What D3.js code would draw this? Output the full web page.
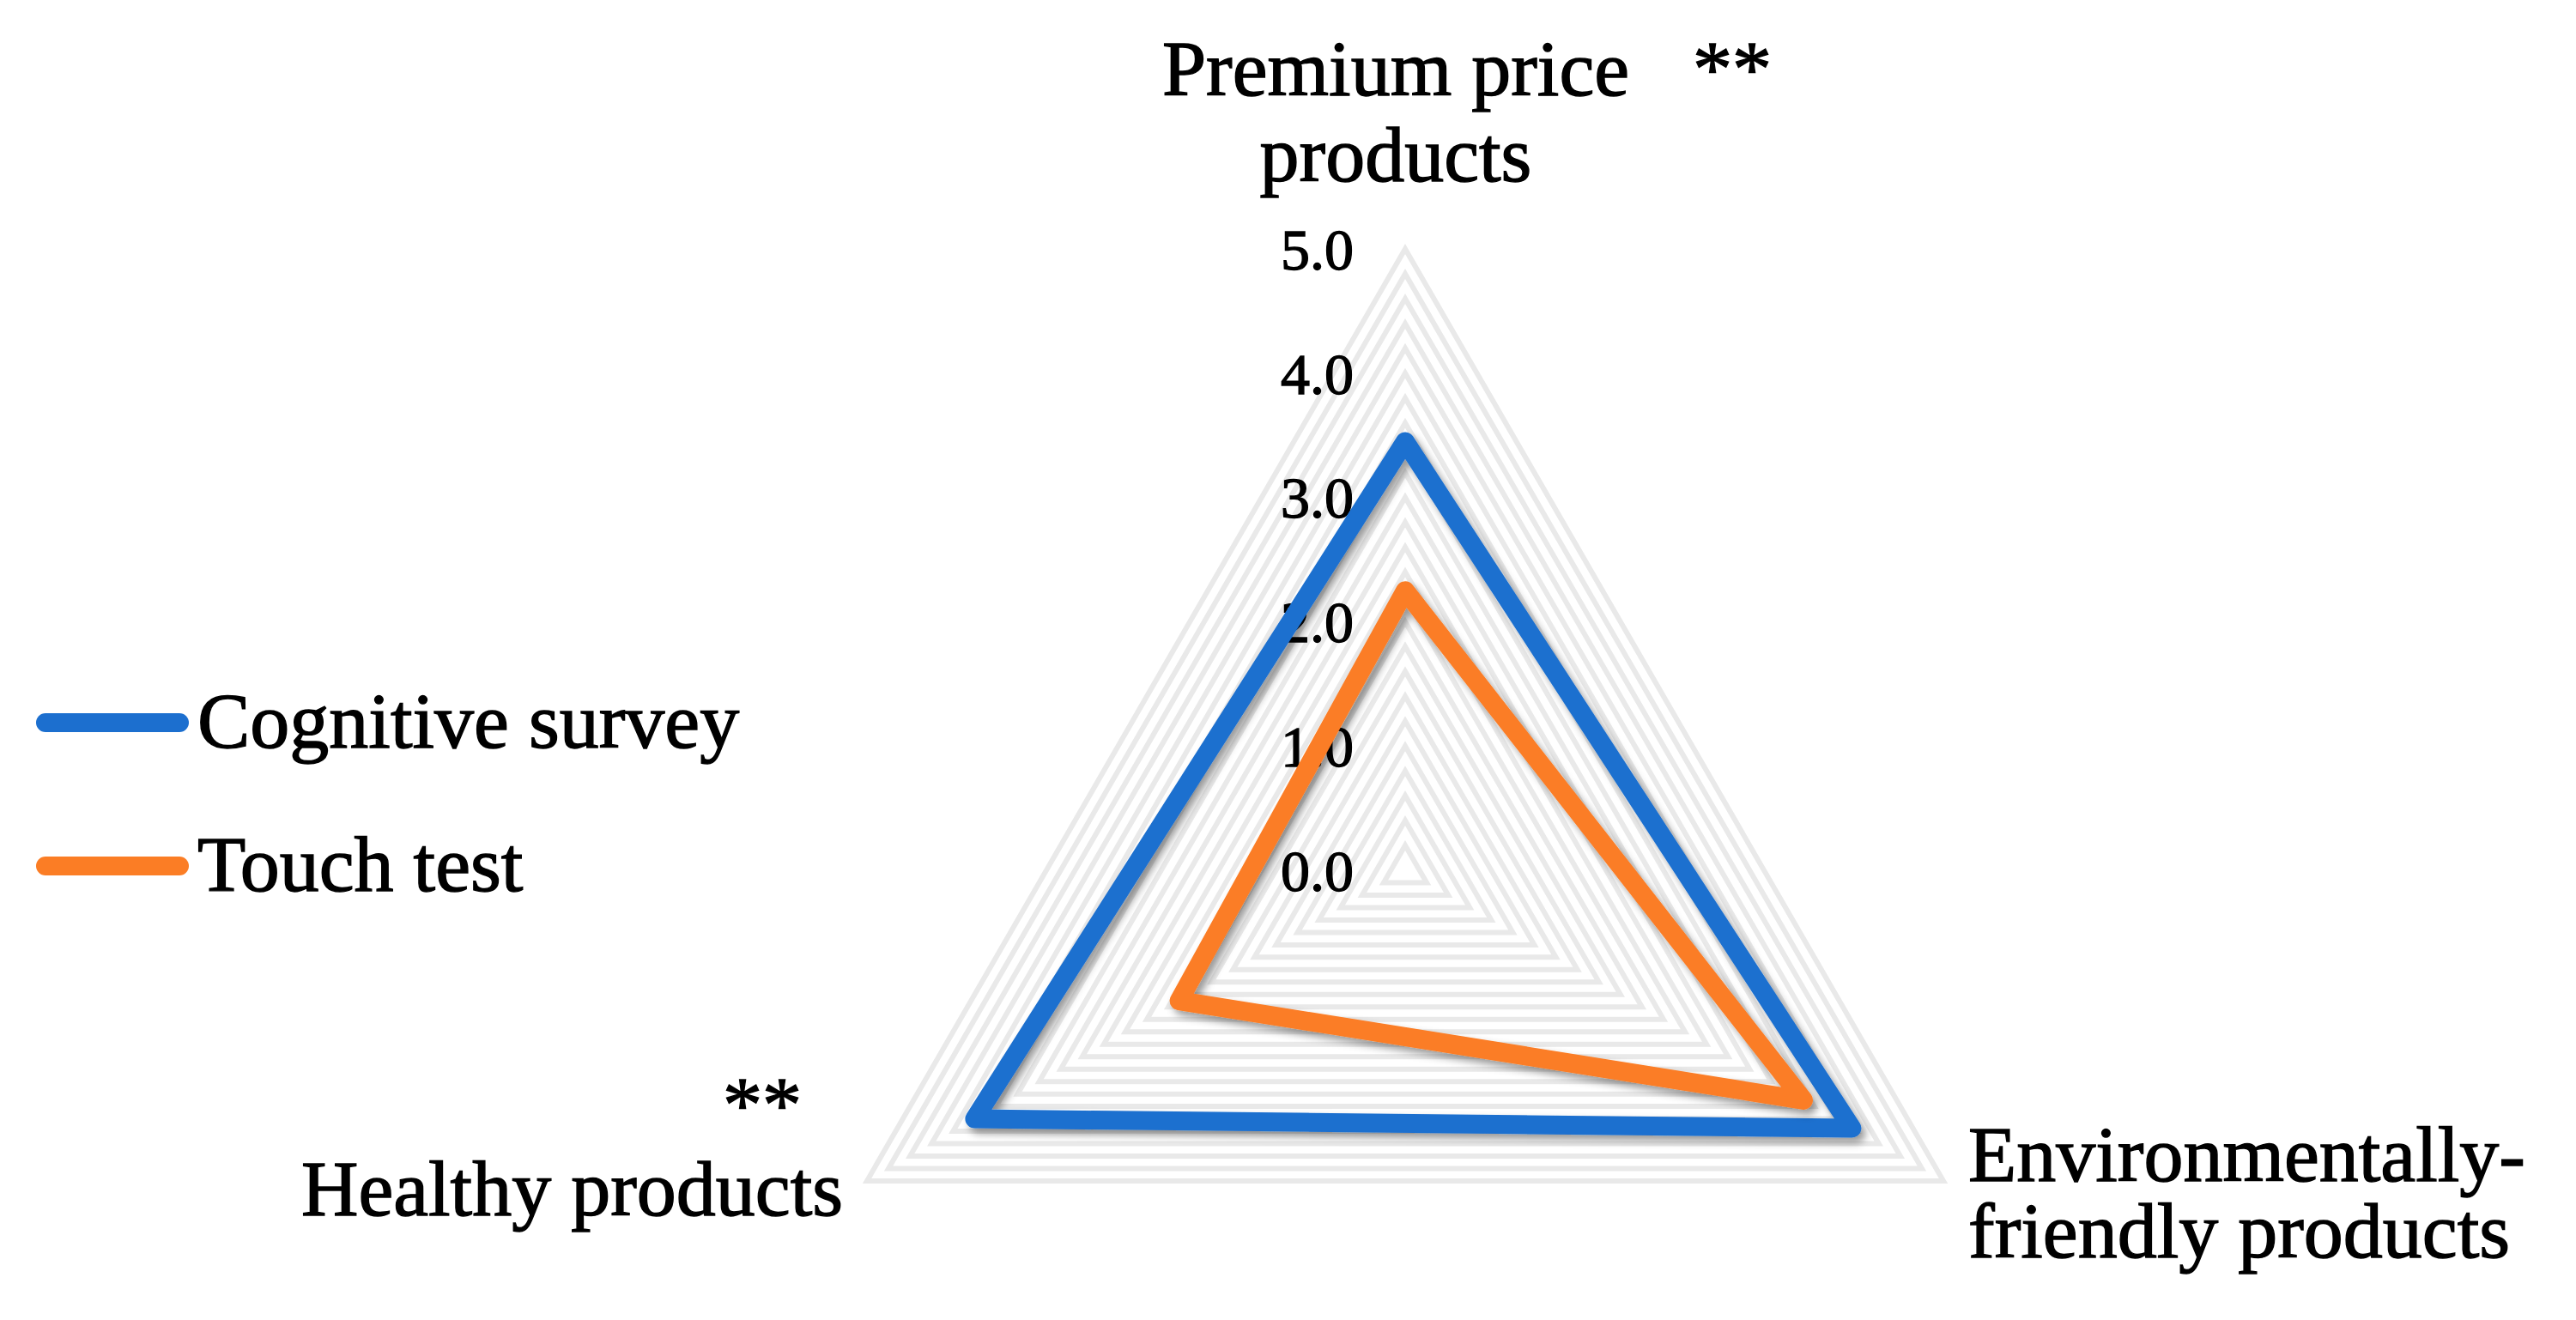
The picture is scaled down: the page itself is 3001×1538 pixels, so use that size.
<!DOCTYPE html>
<html>
<head>
<meta charset="utf-8">
<script src="https://cdn.jsdelivr.net/npm/d3@7"></script>
<style>
  body { margin: 0; background: #fff; }
  text { font-family: "Liberation Serif", "DejaVu Serif", serif; fill: #000; stroke: #000; stroke-width: 1.4px; }
</style>
</head>
<body>
<div id="chart-area"></div>
<script>
// data
var categories = ["Premium price products", "Environmentally-friendly products", "Healthy products"];
var seriesNames = ["Cognitive survey", "Touch test"];
var cognitive = [3.45, 4.15, 4.0];
var touch = [2.25, 3.7, 2.1];
var tickValues = [0, 1, 2, 3, 4, 5];
var tickLabels = ["0.0", "1.0", "2.0", "3.0", "4.0", "5.0"];
var colors = ["#1c6fcf", "#fb7d25"];

var width = 3001, height = 1538;
var cx = 1637, cy = 1014, radius = 724;

var svg = d3.select("#chart-area").append("svg")
  .attr("width", width)
  .attr("height", height);

svg.append("rect").attr("width", width).attr("height", height).attr("fill", "#fff");

// drop shadow like excel
var defs = svg.append("defs");
defs.append("filter").attr("id", "shadow")
  .attr("x", "-20%").attr("y", "-20%").attr("width", "140%").attr("height", "140%")
  .append("feDropShadow")
  .attr("dx", 5).attr("dy", 6)
  .attr("stdDeviation", 5)
  .attr("flood-color", "#000")
  .attr("flood-opacity", 0.4);

var r = d3.scaleLinear().domain([0, 5]).range([0, radius]);
var angle = function(i) { return i * 2 * Math.PI / categories.length; };

var g = svg.append("g").attr("transform", "translate(" + cx + "," + cy + ")");

var radar = d3.lineRadial()
  .angle(function(d, i) { return angle(i); })
  .radius(function(d) { return r(d); })
  .curve(d3.curveLinearClosed);

// minor gridlines every 0.2
var gridValues = d3.range(1, 26).map(function(i) { return i * 0.2; });
g.selectAll(".grid")
  .data(gridValues)
  .enter().append("path")
  .attr("class", "grid")
  .attr("d", function(v) { return radar(categories.map(function() { return v; })); })
  .attr("fill", "none")
  .attr("stroke", "#e9e9e9")
  .attr("stroke-width", 6);

// tick labels
g.selectAll(".tick")
  .data(tickValues)
  .enter().append("text")
  .attr("class", "tick")
  .attr("x", -60)
  .attr("y", function(d) { return -r(d); })
  .attr("dy", "0.35em")
  .attr("text-anchor", "end")
  .style("font-size", "68px")
  .text(function(d, i) { return tickLabels[i]; });

// series
var series = [cognitive, touch];
g.selectAll(".series")
  .data(series)
  .enter().append("path")
  .attr("class", "series")
  .attr("d", function(d) { return radar(d); })
  .attr("fill", "none")
  .attr("stroke", function(d, i) { return colors[i]; })
  .attr("stroke-width", 22)
  .attr("stroke-linejoin", "round")
  .attr("filter", "url(#shadow)");

// category labels
var labelSize = "92px";
var topLabel = svg.append("text").attr("x", 1626).attr("y", 111)
  .attr("text-anchor", "middle").style("font-size", labelSize);
topLabel.append("tspan").attr("x", 1626).text("Premium price");
topLabel.append("tspan").attr("x", 1626).attr("dy", 100).text("products");
svg.append("text").attr("x", 1972).attr("y", 111)
  .style("font-size", labelSize).text("**");

var rightLabel = svg.append("text").attr("x", 2293).attr("y", 1376)
  .style("font-size", labelSize);
rightLabel.append("tspan").attr("x", 2293).text("Environmentally-");
rightLabel.append("tspan").attr("x", 2293).attr("dy", 89).text("friendly products");

svg.append("text").attr("x", 982).attr("y", 1416)
  .attr("text-anchor", "end").style("font-size", labelSize).text("Healthy products");
svg.append("text").attr("x", 842).attr("y", 1318)
  .style("font-size", labelSize).text("**");

// legend
var legend = svg.selectAll(".legend")
  .data(seriesNames)
  .enter().append("g")
  .attr("class", "legend")
  .attr("transform", function(d, i) { return "translate(0," + (842 + i * 167) + ")"; });

legend.append("line")
  .attr("x1", 53).attr("x2", 209)
  .attr("stroke", function(d, i) { return colors[i]; })
  .attr("stroke-width", 22)
  .attr("stroke-linecap", "round");

legend.append("text")
  .attr("x", 230)
  .attr("y", 29)
  .style("font-size", labelSize)
  .text(function(d) { return d; });
</script>
</body>
</html>
